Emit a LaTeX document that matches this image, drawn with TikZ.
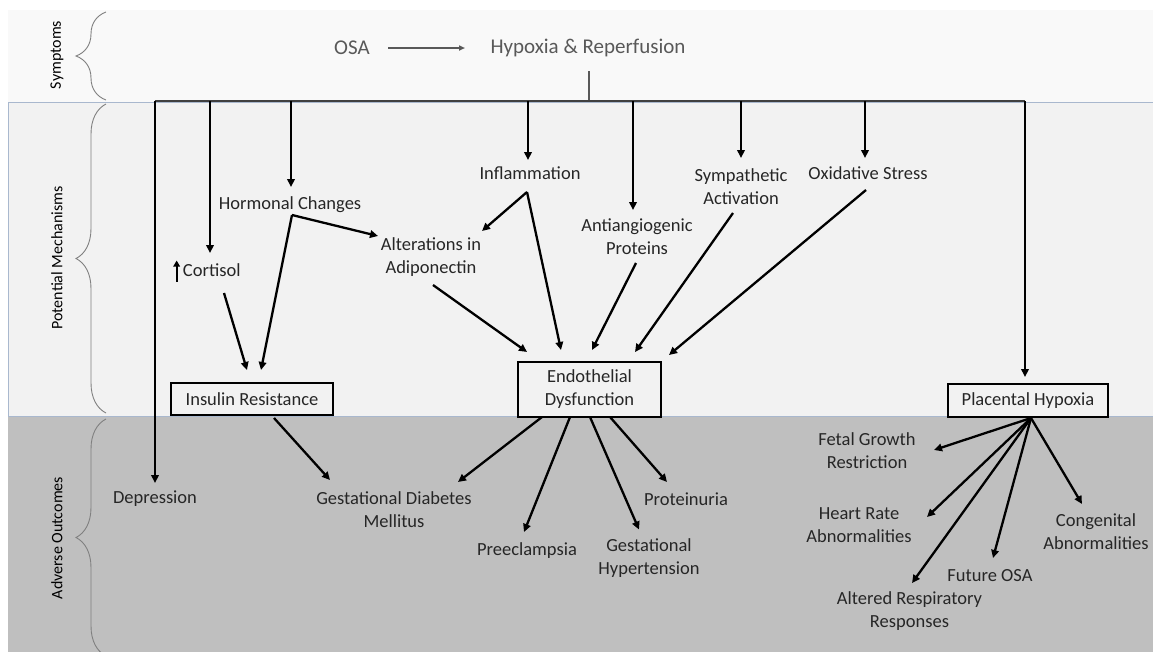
\documentclass[tikz,border=0pt]{standalone}
\usepackage{fontspec}
\setmainfont{Carlito}
\usepackage{tikz}
\usetikzlibrary{arrows.meta,calc,decorations.pathreplacing,positioning}
\definecolor{bandtop}{HTML}{F9F9F9}
\definecolor{bandmid}{HTML}{F2F2F2}
\definecolor{bandlow}{HTML}{BFBFBF}
\definecolor{bandline}{HTML}{A9B8CE}
\definecolor{txt}{HTML}{262626}
\definecolor{symtxt}{HTML}{595959}
\definecolor{busgray}{HTML}{404040}
\tikzset{%
	block/.style    = {draw=black, line width=1.5pt, fill=bandmid, rectangle, text=txt, font=\fontsize{18.5}{23}\selectfont, align=center, inner sep=2pt},
	mech/.style     = {text=txt, font=\fontsize{18.5}{23}\selectfont, align=center, inner sep=3pt}, % Mechanism
	outcome/.style  = {mech}, % Outcome
	symptom/.style  = {text=symtxt, font=\fontsize{21}{25}\selectfont}, % Top row
	sidetext/.style = {rotate=90, text=black, font=\fontsize{16}{19}\selectfont},
	sidebrace/.style= {draw=gray, line width=0.9pt, decorate, decoration={brace, amplitude=30pt}},
}
\tikzset{%
	arrow/.style    = {line width=2.3pt, -{Triangle[length=8pt,width=7.5pt]}},
	garrow/.style   = {draw=symtxt, line width=1.5pt, -{Triangle[length=6pt,width=5pt]}},
	bus/.style      = {draw=busgray, line width=2.5pt},
	stem/.style     = {draw=symtxt, line width=1.5pt},
}

\begin{document}
\begin{tikzpicture}[x=1pt, y=-1pt]
	\useasboundingbox (0,0) rectangle (1153,651);
	% bands
	\fill[bandtop] (8,10) rectangle (1153,102);
	\fill[bandmid] (8,102) rectangle (1153,416);
	\fill[bandlow] (8,416) rectangle (1153,660);
	\draw[bandline] (8,102) -- (1153,102);
	\draw[bandline] (8,416) -- (1153,416);
	\draw[bandline] (8,102) -- (8,416);
	
	% braces
	\draw[sidebrace] (106,100) -- (106,12);
	\draw[sidebrace] (106,413) -- (106,104);
	\draw[sidebrace] (106,656) -- (106,419);
	\node[sidetext] (lsym) at (57,55) {Symptoms};
	\node[sidetext] (lmech) at (57,258) {Potential Mechanisms};
	\node[sidetext] (lout) at (57,538) {Adverse Outcomes};
	
	% symptoms
	\node[symptom] (osa) at (352,48) {OSA};
	\node[symptom] (hyp) at (588,48) {Hypoxia \& Reperfusion};
	\coordinate (bh) at (589,101);
	\coordinate (b1) at (155,101);
	\coordinate (b2) at (210,101);
	\coordinate (b3) at (291,101);
	\coordinate (b4) at (528,101);
	\coordinate (b5) at (633,101);
	\coordinate (b6) at (741,101);
	\coordinate (b7) at (865,101);
	\coordinate (b8) at (1025,101);
	
	% mechanisms
	\node[mech] (horm) at (290,205) {Hormonal Changes};
	\node[mech] (cort) at (207,271) {\tikz[baseline=0pt]\draw[black, line width=2.2pt, -{Triangle[length=6pt,width=6.5pt]}] (0pt,-5pt) -- (0pt,16pt);\,Cortisol};
	\node[mech] (alter) at (431,257) {Alterations in\\Adiponectin};
	\node[mech] (infl) at (530,173) {Inflammation};
	\node[mech] (anti) at (637,237) {Antiangiogenic\\Proteins};
	\node[mech] (symp) at (741,187) {Sympathetic\\Activation};
	\node[mech] (oxid) at (868,173) {Oxidative Stress};
	\node[block, minimum width=162pt, minimum height=32pt] (ins) at (252,399) {Insulin Resistance};
	\node[block, minimum width=143pt, minimum height=55pt] (endo) at (589.5,389.5) {Endothelial\\Dysfunction};
	\node[block, minimum width=160pt, minimum height=33pt] (plac) at (1028,400.5) {Placental Hypoxia};
	
	% outcomes
	\node[outcome] (depr) at (155,499) {Depression};
	\node[outcome] (gdm) at (394,510) {Gestational Diabetes\\Mellitus};
	\node[outcome] (pree) at (527,551) {Preeclampsia};
	\node[outcome] (ghyp) at (649,558) {Gestational\\Hypertension};
	\node[outcome] (prot) at (686,499) {Proteinuria};
	\node[outcome] (fgr) at (867,451) {Fetal Growth\\Restriction};
	\node[outcome] (hr) at (859,525) {Heart Rate\\Abnormalities};
	\node[outcome] (arr) at (909.5,611) {Altered Respiratory\\Responses};
	\node[outcome] (fosa) at (990,576) {Future OSA};
	\node[outcome] (cong) at (1096,532) {Congenital\\Abnormalities};
	
	\draw[garrow] ($(osa)+(36,0)$) -- ($(hyp)+(-123,0)$);
	\draw[stem] ($(hyp)+(1,23)$) -- (bh);
	\draw[bus] (b1) -- (b8);
	
	\draw[arrow] (b1) -- ($(b1 |- depr)+(0,-16)$);
	\draw[arrow] (b2) -- ($(b2 |- cort)+(0,-18)$);
	\draw[arrow] (b3) -- ($(b3 |- horm)+(0,-18)$);
	\draw[arrow] (b4) -- ($(b4 |- infl)+(0,-13)$);
	\draw[arrow] (b5) -- ($(b5 |- anti)+(0,-27)$);
	\draw[arrow] (b6) -- ($(b6 |- symp)+(0,-29)$);
	\draw[arrow] (b7) -- ($(b7 |- oxid)+(0,-15)$);
	\draw[arrow] (b8) -- ($(b8 |- plac)+(0,-23.5)$);
	
	\draw[arrow] ($(horm)+(2,10)$) -- ($(ins)+(9,-29)$);
	\draw[arrow] ($(horm)+(2,10)$) -- ($(alter)+(-53,-21)$);
	\draw[arrow] ($(cort)+(17,22)$) -- ($(ins)+(-5,-29)$);
	\draw[arrow] ($(infl)+(-3,19)$) -- ($(alter)+(51,-26)$);
	\draw[arrow] ($(infl)+(-3,19)$) -- ($(endo)+(-28.5,-39.5)$);
	\draw[arrow] ($(alter)+(2,28)$) -- ($(endo)+(-62.5,-37.5)$);
	\draw[arrow] ($(anti)+(-1,26)$) -- ($(endo)+(2.5,-39.5)$);
	\draw[arrow] ($(symp)+(-8,26)$) -- ($(endo)+(45.5,-37.5)$);
	\draw[arrow] ($(oxid)+(-2,17)$) -- ($(endo)+(79.5,-34.5)$);
	
	\draw[arrow] ($(ins)+(22,19)$) -- ($(gdm)+(-64,-30)$);
	\draw[arrow] ($(endo)+(-47.5,27.5)$) -- ($(gdm)+(64,-28)$);
	\draw[arrow] ($(endo)+(-19.5,27.5)$) -- ($(pree)+(-3,-19)$);
	\draw[arrow] ($(endo)+(0.5,27.5)$) -- ($(ghyp)+(-10,-28.5)$);
	\draw[arrow] ($(endo)+(20.5,27.5)$) -- ($(prot)+(-19,-17)$);
	
	\draw[arrow] ($(plac)+(3,17.5)$) -- ($(fgr)+(67,-1)$);
	\draw[arrow] ($(plac)+(3,17.5)$) -- ($(hr)+(68,-8)$);
	\draw[arrow] ($(plac)+(3,17.5)$) -- ($(arr)+(2.5,-28)$);
	\draw[arrow] ($(plac)+(3,17.5)$) -- ($(fosa)+(3,-18)$);
	\draw[arrow] ($(plac)+(3,17.5)$) -- ($(cong)+(-14,-28)$);
\end{tikzpicture}
\end{document}
